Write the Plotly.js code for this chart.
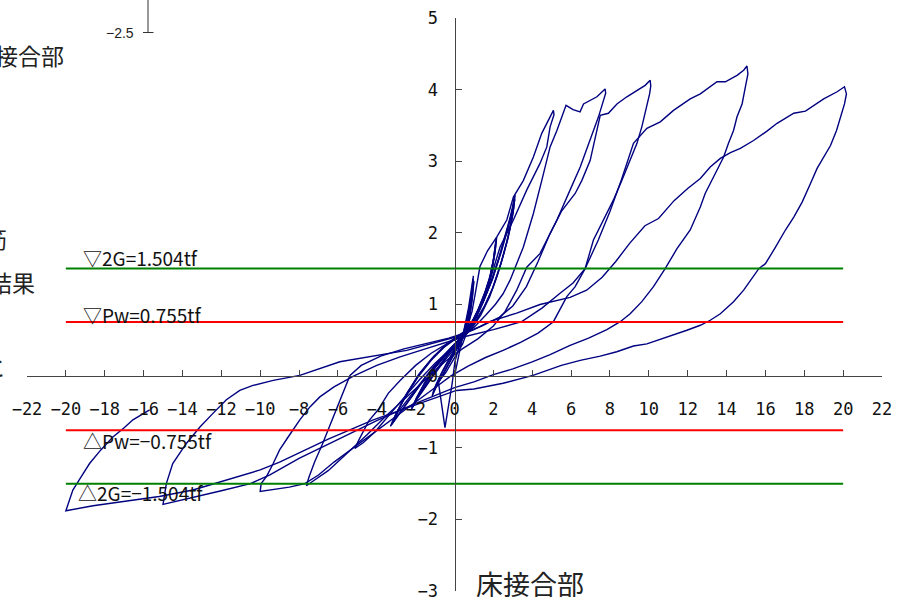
<!DOCTYPE html>
<html><head><meta charset="utf-8">
<script src="https://cdn.plot.ly/plotly-3.0.1.min.js"></script>
<style>html,body{margin:0;padding:0;background:#fff;overflow:hidden}#chart{width:897px;height:597px}</style>
</head><body><div id="chart"></div>
<script>
// ---- data (displacement, load tf) ----
const c1X = [0, 0.15, 0.35, 0.55, 0.72, 0.85, 0.95, 0.98, 0.9, 0.78, 0.62, 0.42, 0.2, -0.1, -0.45, -0.83, -0.49, -0.3, -0.12, 0.02, 0.2];
const c1Y = [0, 0.2, 0.45, 0.7, 0.95, 1.18, 1.36, 1.3, 1.05, 0.8, 0.6, 0.45, 0.35, 0.2, 0.05, -0.08, -0.72, -0.4, -0.1, 0.2, 0.38];
const c2X = [0.2, 0.45, 0.65, 0.8, 0.92, 0.97, 0.88, 0.7, 0.45, 0.15, -0.3, -0.7, -1.05, -1.15, -0.95, -0.6, -0.25, 0.1, 0.35];
const c2Y = [0.38, 0.55, 0.78, 1.0, 1.22, 1.4, 1.15, 0.85, 0.6, 0.42, 0.22, 0.02, -0.18, -0.28, -0.15, 0.02, 0.2, 0.38, 0.5];
const c2bX = [0.35, 0.55, 0.75, 0.9, 1.0, 0.92, 0.75, 0.5, 0.2, -0.2, -0.6, -0.95, -1.1, -0.85, -0.5, -0.15, 0.2, 0.4];
const c2bY = [0.5, 0.65, 0.9, 1.12, 1.33, 1.1, 0.82, 0.6, 0.45, 0.28, 0.08, -0.12, -0.24, -0.1, 0.07, 0.25, 0.42, 0.52];
const c3X = [0.35, 0.7, 1.1, 1.5, 1.8, 2.0, 2.17, 2.12, 1.95, 1.7, 1.35, 0.95, 0.5, 0.05, -0.5, -1.1, -1.6, -2.0, -2.25, -2.05, -1.6, -1.1, -0.5, 0.05, 0.4];
const c3Y = [0.5, 0.65, 0.85, 1.1, 1.35, 1.62, 1.94, 1.8, 1.5, 1.2, 0.95, 0.72, 0.55, 0.4, 0.22, 0.0, -0.2, -0.35, -0.48, -0.38, -0.15, 0.08, 0.28, 0.45, 0.55];
const c4X = [0.4, 0.8, 1.2, 1.55, 1.85, 2.05, 2.12, 2.0, 1.8, 1.5, 1.1, 0.65, 0.2, -0.35, -0.95, -1.5, -1.95, -2.2, -2.0, -1.55, -1.0, -0.45, 0.05, 0.45];
const c4Y = [0.55, 0.7, 0.92, 1.15, 1.4, 1.68, 1.88, 1.62, 1.35, 1.08, 0.82, 0.62, 0.47, 0.3, 0.08, -0.14, -0.32, -0.45, -0.33, -0.1, 0.12, 0.3, 0.45, 0.57];
const c4bX = [0.45, 0.85, 1.25, 1.6, 1.9, 2.08, 2.15, 2.03, 1.82, 1.52, 1.15, 0.7, 0.25, -0.3, -0.9, -1.45, -1.9, -2.15, -1.95, -1.5, -0.95, -0.4, 0.1, 0.45];
const c4bY = [0.57, 0.73, 0.95, 1.2, 1.46, 1.72, 1.92, 1.66, 1.38, 1.1, 0.85, 0.64, 0.49, 0.32, 0.1, -0.12, -0.3, -0.43, -0.3, -0.08, 0.14, 0.32, 0.47, 0.58];
const c5X = [0.45, 0.9, 1.4, 1.85, 2.25, 2.6, 2.85, 3.0, 3.12, 3.05, 2.85, 2.55, 2.2, 1.8, 1.35, 0.85, 0.3, -0.3, -1.0, -1.7, -2.4, -2.9, -3.25, -3.0, -2.5, -1.9, -1.2, -0.55, 0.05, 0.5];
const c5Y = [0.57, 0.75, 1.0, 1.3, 1.62, 1.95, 2.2, 2.38, 2.53, 2.35, 2.05, 1.72, 1.4, 1.1, 0.85, 0.65, 0.5, 0.35, 0.15, -0.08, -0.32, -0.5, -0.68, -0.52, -0.28, -0.02, 0.22, 0.4, 0.52, 0.62];
const c6X = [0.5, 0.95, 1.45, 1.95, 2.35, 2.7, 2.95, 3.1, 3.0, 2.75, 2.4, 2.0, 1.55, 1.05, 0.5, -0.1, -0.8, -1.5, -2.2, -2.8, -3.2, -2.95, -2.4, -1.75, -1.05, -0.4, 0.15, 0.6];
const c6Y = [0.62, 0.78, 1.02, 1.35, 1.7, 2.02, 2.28, 2.47, 2.25, 1.92, 1.58, 1.25, 0.98, 0.75, 0.58, 0.42, 0.22, -0.02, -0.28, -0.5, -0.66, -0.5, -0.22, 0.05, 0.28, 0.45, 0.56, 0.64];
const c6bX = [0.55, 1.0, 1.5, 1.98, 2.4, 2.75, 2.98, 3.08, 2.95, 2.7, 2.35, 1.95, 1.5, 1.0, 0.45, -0.15, -0.85, -1.55, -2.25, -2.85, -3.3, -3.05, -2.5, -1.85, -1.15, -0.45, 0.1, 0.6];
const c6bY = [0.63, 0.8, 1.05, 1.38, 1.73, 2.06, 2.32, 2.5, 2.2, 1.88, 1.54, 1.22, 0.95, 0.73, 0.56, 0.4, 0.2, -0.04, -0.3, -0.53, -0.7, -0.55, -0.26, 0.02, 0.25, 0.43, 0.55, 0.63];
const c7X = [0.6, 0.9, 1.1, 1.31, 1.7, 2.17, 2.69, 3.03, 3.54, 4.06, 4.49, 5.0, 5.09, 5.12, 4.92, 4.75, 4.4, 3.72, 3.03, 2.34, 1.83, 1.4, 0.9, 0.4, -0.2, -1.0, -1.8, -2.6, -3.4, -4.1, -4.7, -5.13, -4.9, -4.4, -3.93, -3.41, -2.8, -2.0, -1.2, -0.4, 0.3];
const c7Y = [0.64, 0.9, 1.2, 1.53, 1.75, 1.94, 2.18, 2.5, 2.73, 3.06, 3.39, 3.67, 3.71, 3.65, 3.48, 3.2, 2.97, 2.6, 2.18, 1.8, 1.34, 1.0, 0.72, 0.55, 0.38, 0.18, -0.05, -0.3, -0.55, -0.78, -0.93, -1.01, -0.88, -0.62, -0.47, -0.24, -0.06, 0.15, 0.32, 0.45, 0.55];
const c8X = [0.3, 1.0, 1.6, 2.1, 2.5, 2.86, 3.54, 4.06, 4.49, 4.92, 5.27, 5.74, 6.1, 6.46, 6.64, 7.33, 7.75, 7.78, 7.41, 6.98, 6.47, 5.95, 5.27, 4.4, 3.72, 3.2, 2.6, 2.0, 1.2, 0.4, -0.5, -1.5, -2.5, -3.5, -4.5, -5.2, -5.8, -6.5, -7.2, -7.62, -7.5, -7.2, -6.8, -6.35, -5.9, -5.38, -4.8, -3.8, -2.6, -1.4, -0.3, 0.5];
const c8Y = [0.55, 0.68, 0.85, 1.0, 1.15, 1.34, 1.8, 2.27, 2.73, 3.2, 3.43, 3.78, 3.72, 3.69, 3.8, 3.9, 4.01, 3.95, 3.62, 3.29, 2.92, 2.6, 2.18, 1.71, 1.52, 1.2, 0.9, 0.7, 0.52, 0.38, 0.2, -0.05, -0.3, -0.55, -0.82, -1.0, -1.15, -1.32, -1.45, -1.53, -1.42, -1.2, -0.95, -0.65, -0.33, 0.01, 0.15, 0.28, 0.38, 0.46, 0.53, 0.6];
const c9X = [0.5, 1.4, 2.3, 3.0, 3.7, 4.3, 4.9, 5.5, 6.21, 6.55, 6.98, 7.24, 7.5, 7.92, 8.36, 8.87, 9.39, 9.81, 10.07, 10.1, 10.04, 9.81, 9.64, 9.39, 9.04, 8.61, 8.18, 7.67, 7.15, 6.72, 6.21, 5.78, 5.09, 4.3, 3.4, 2.5, 1.6, 0.7, -0.2, -1.2, -2.2, -3.2, -4.2, -5.2, -6.2, -7.0, -7.7, -8.5, -9.3, -10.0, -9.95, -9.67, -9.33, -9.0, -8.56, -7.96, -7.44, -6.93, -6.2, -5.2, -4.0, -2.8, -1.5, -0.3, 0.5];
const c9Y = [0.6, 0.7, 0.82, 0.98, 1.25, 1.6, 1.98, 2.3, 2.55, 2.73, 3.01, 3.34, 3.64, 3.67, 3.8, 3.9, 3.99, 4.06, 4.13, 4.05, 3.94, 3.67, 3.48, 3.25, 3.01, 2.73, 2.46, 2.18, 1.9, 1.5, 1.25, 1.11, 0.76, 0.6, 0.47, 0.36, 0.26, 0.14, 0.0, -0.2, -0.4, -0.6, -0.8, -1.0, -1.2, -1.38, -1.5, -1.55, -1.58, -1.61, -1.5, -1.4, -1.22, -1.03, -0.85, -0.61, -0.43, -0.29, -0.15, 0.0, 0.15, 0.27, 0.38, 0.48, 0.55];
const c10X = [0.5, 2.0, 3.46, 4.5, 5.4, 6.1, 6.72, 7.4, 8.0, 8.6, 9.21, 9.9, 10.59, 11.27, 12.13, 12.65, 13.51, 13.94, 14.54, 14.88, 15.05, 15.1, 14.97, 14.8, 14.54, 14.36, 14.1, 13.85, 13.59, 13.16, 12.9, 12.65, 12.13, 11.45, 10.84, 10.24, 9.64, 9.04, 8.53, 7.84, 6.9, 5.95, 4.92, 4.0, 3.0, 2.0, 1.0, 0.0, -2.0, -4.0, -6.0, -8.0, -9.5, -10.5, -12.0, -13.5, -15.0, -14.83, -14.5, -13.8, -13.1, -12.43, -11.74, -11.05, -10.37, -9.33, -7.96, -5.9, -2.46, 0.11];
const c10Y = [0.55, 0.65, 0.76, 0.95, 1.15, 1.3, 1.5, 1.9, 2.3, 2.75, 3.25, 3.46, 3.55, 3.71, 3.87, 3.94, 4.11, 4.11, 4.2, 4.27, 4.33, 4.22, 4.04, 3.8, 3.62, 3.43, 3.25, 3.06, 2.92, 2.69, 2.55, 2.36, 2.04, 1.78, 1.5, 1.25, 1.04, 0.87, 0.76, 0.65, 0.53, 0.43, 0.3, 0.2, 0.1, 0.02, -0.08, -0.16, -0.38, -0.62, -0.88, -1.15, -1.38, -1.5, -1.6, -1.7, -1.79, -1.5, -1.22, -0.94, -0.71, -0.52, -0.33, -0.2, -0.13, -0.06, 0.01, 0.2, 0.36, 0.55];
const c11X = [0.11, 1.0, 1.8, 3.2, 4.4, 5.3, 5.95, 6.8, 7.6, 8.3, 9.0, 9.8, 10.5, 11.3, 12.0, 12.65, 13.16, 13.68, 14.2, 14.71, 15.39, 16.08, 16.6, 17.46, 18.06, 19.0, 19.69, 20.07, 20.17, 20.07, 19.86, 19.66, 19.35, 19.0, 18.66, 18.32, 17.89, 17.46, 17.03, 16.52, 16.0, 15.66, 15.39, 14.88, 14.36, 14.1, 13.68, 13.16, 12.65, 11.96, 10.93, 9.9, 9.21, 8.35, 7.5, 6.47, 5.5, 4.04, 2.5, 1.0, 0.1, -0.75, -2.0, -4.18, -6.5, -9.0, -10.0, -11.74, -13.46, -15.2, -16.9, -18.6, -20.0, -19.9, -19.64, -19.2, -18.78, -18.2, -17.58, -17.0, -16.55, -15.69];
const c11Y = [0.55, 0.65, 0.76, 0.88, 1.0, 1.06, 1.1, 1.2, 1.38, 1.6, 1.85, 2.1, 2.2, 2.45, 2.62, 2.76, 2.92, 3.04, 3.12, 3.18, 3.29, 3.42, 3.53, 3.67, 3.7, 3.87, 3.97, 4.04, 3.94, 3.8, 3.62, 3.43, 3.22, 3.06, 2.9, 2.69, 2.43, 2.22, 2.04, 1.8, 1.57, 1.5, 1.39, 1.2, 1.04, 0.97, 0.87, 0.78, 0.71, 0.64, 0.54, 0.45, 0.42, 0.34, 0.28, 0.22, 0.15, 0.01, -0.1, -0.18, -0.2, -0.28, -0.4, -0.61, -0.88, -1.2, -1.31, -1.45, -1.59, -1.68, -1.75, -1.81, -1.88, -1.8, -1.59, -1.4, -1.22, -1.03, -0.85, -0.72, -0.61, -0.47];

const cyclesX = [c1X, c2X, c2bX, c3X, c4X, c4bX, c5X, c6X, c6bX, c7X, c8X, c9X, c10X, c11X];
const cyclesY = [c1Y, c2Y, c2bY, c3Y, c4Y, c4bY, c5Y, c6Y, c6bY, c7Y, c8Y, c9Y, c10Y, c11Y];

// reference load levels (tf) and their x extent
const levelX = [-20, 20];
const level2G = 1.504;
const levelPw = 0.755;
const levelLabels = ['▽2G=1.504tf', '▽Pw=0.755tf', '△Pw=−0.755tf', '△2G=−1.504tf'];

const xTicks = [-22,-20,-18,-16,-14,-12,-10,-8,-6,-4,-2,0,2,4,6,8,10,12,14,16,18,20,22];
const yTicks = [-3,-2,-1,0,1,2,3,4,5];

// ---- geometry helpers (pixel -> paper) ----
const L = 27, R = 15, T = 18, B = 6, W = 897, H = 597;
const PW = W - L - R, PH = H - T - B;
const px = v => (v - L) / PW;
const py = v => (H - B - v) / PH;

const navy = '#000080';
const traces = [];
for (let i = 0; i < cyclesX.length; i++) {
  traces.push({x: cyclesX[i], y: cyclesY[i], type: 'scatter', mode: 'lines',
    line: {color: navy, width: 1.4}, hoverinfo: 'skip', showlegend: false});
}
const lvl = (v, c) => ({x: levelX, y: [v, v], type: 'scatter', mode: 'lines',
  line: {color: c, width: 2}, hoverinfo: 'skip', showlegend: false});
traces.push(lvl(level2G, '#008000'), lvl(levelPw, '#ff0000'), lvl(-levelPw, '#ff0000'), lvl(-level2G, '#008000'));

const mono = 'DejaVu Sans Mono, Liberation Mono, monospace';
const cjk = 'Noto Sans CJK JP, sans-serif';
const tickFont = {family: mono, size: 17, color: '#111'};

const ann = [
  {x: -19.2, y: 1.66, text: levelLabels[0]},
  {x: -19.2, y: 0.865, text: levelLabels[1]},
  {x: -19.2, y: -0.9, text: levelLabels[2]},
  {x: -19.5, y: -1.63, text: levelLabels[3]}
].map(a => Object.assign({xref: 'x', yref: 'y', xanchor: 'left', yanchor: 'middle', showarrow: false,
  font: {family: cjk, size: 19, color: '#111'}}, a));

const side = (text, rx, cy, size, anchor) => ({xref: 'paper', yref: 'paper', x: px(rx), y: py(cy), text: text,
  xanchor: anchor || 'right', yanchor: 'middle', showarrow: false, font: {family: cjk, size: size, color: '#222'}});
ann.push(side('接合部', 66, 55, 23));
ann.push(side('筋', 9, 238, 23));
ann.push(side('結果', 37, 282, 23));
ann.push(side('と', 8, 366, 23));
ann.push(side('床接合部', 474, 583, 27, 'left'));
ann.push({xref: 'paper', yref: 'paper', x: px(136), y: py(33), text: '−2.5', xanchor: 'right', yanchor: 'middle',
  showarrow: false, font: {family: 'Liberation Sans, Arial, sans-serif', size: 14, color: '#222'}});

const shapes = [
  {type: 'line', xref: 'paper', yref: 'paper', x0: px(148), x1: px(148), y0: py(-2), y1: py(32.5), line: {color: '#333', width: 1}},
  {type: 'line', xref: 'paper', yref: 'paper', x0: px(143), x1: px(153.5), y0: py(32.5), y1: py(32.5), line: {color: '#333', width: 1}}
];

const axisCommon = {showgrid: false, zeroline: false, showline: true, linecolor: '#444', linewidth: 1,
  ticks: 'inside', ticklen: 6, tickcolor: '#444', tickfont: tickFont, ticklabeloverflow: 'allow', tickmode: 'array'};
const layout = {
  width: W, height: H, margin: {l: L, r: R, t: T, b: B, pad: 0},
  paper_bgcolor: '#fff', plot_bgcolor: 'rgba(0,0,0,0)', showlegend: false,
  xaxis: Object.assign({range: [-22, 22], anchor: 'free', position: 3/8, tickvals: xTicks, ticklabelstandoff: 17}, axisCommon),
  yaxis: Object.assign({range: [-3, 5], anchor: 'free', position: 0.5, tickvals: yTicks, ticklabelstandoff: 13}, axisCommon),
  annotations: ann, shapes: shapes
};
Plotly.newPlot('chart', traces, layout, {staticPlot: true, displayModeBar: false});
</script></body></html>
